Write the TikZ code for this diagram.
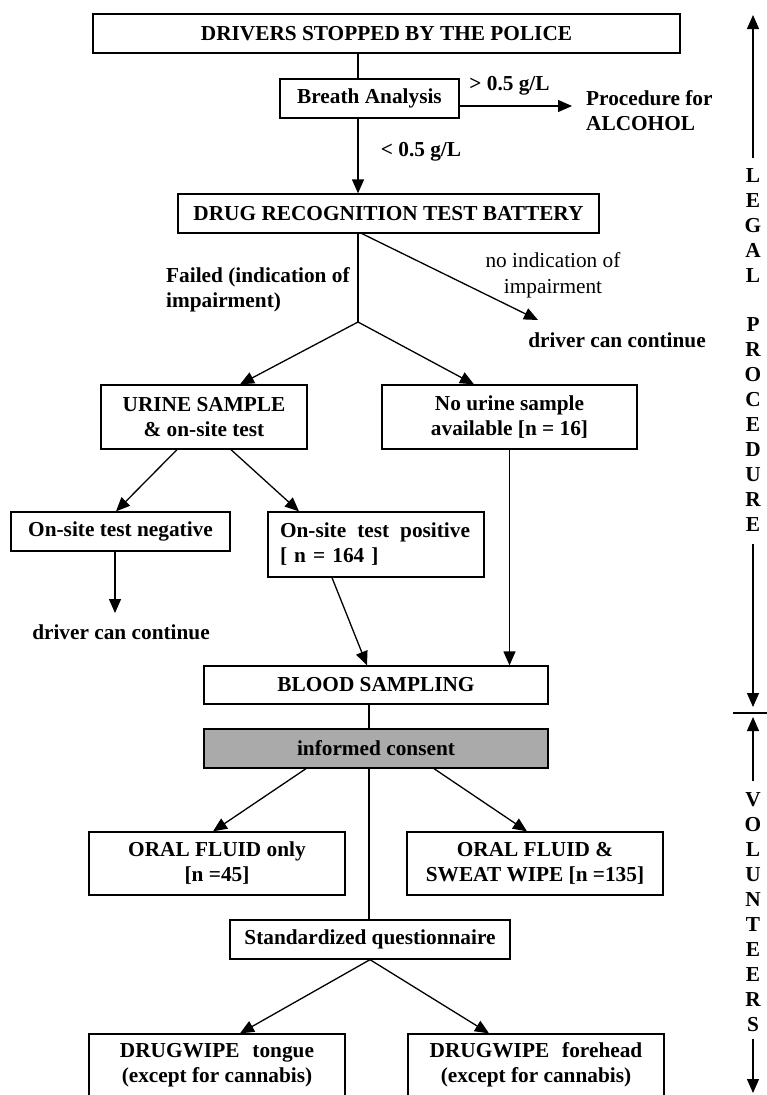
\documentclass[tikz,border=0pt]{standalone}
\usepackage{fontspec}
\setmainfont{Liberation Serif}
\usetikzlibrary{arrows.meta}
\definecolor{consentgray}{RGB}{170,170,170}
\tikzset{
	box/.style={draw=black,line width=1.3pt,fill=white,inner sep=0pt,align=center,font=\bfseries\fontsize{21.3}{25}\selectfont},
	lbl/.style={inner sep=0pt,align=center,font=\bfseries\fontsize{21.3}{25}\selectfont},
	plainlbl/.style={inner sep=0pt,align=center,font=\fontsize{21.3}{26}\selectfont},
	link/.style={line width=1.3pt,black},
	arr/.style={line width=1.3pt,black,-{Triangle[length=14pt,width=12pt]}},
}
\begin{document}
\begin{tikzpicture}[x=1pt,y=-1pt]
	\path[use as bounding box,clip](0,0) rectangle (767,1095);
		\node[box,minimum width=587pt,minimum height=39pt](police) at (386.5,33.5){DRIVERS STOPPED BY THE POLICE};
		\node[box,minimum width=179pt,minimum height=39pt](breath) at (369.5,98.5){Breath Analysis};
		\node[box,minimum width=421pt,minimum height=39pt](drt) at (388.5,213.5){DRUG RECOGNITION TEST BATTERY};
		\node[box,minimum width=206pt,minimum height=64pt](urine) at (204,417){URINE SAMPLE\\\& on-site test};
		\node[box,minimum width=255pt,minimum height=64pt](nourine) at (509.5,417){No urine sample\\available [n = 16]};
		\node[box,minimum width=219pt,minimum height=39pt](neg) at (120.5,531.5){On-site test negative};
		\node[box,minimum width=216pt,minimum height=65pt,text width=192pt,align=left](pos) at (376,544.5){On-site\hspace{11pt}test\hspace{11pt}positive\\{}[ n = 164 ]};
		\node[box,minimum width=344pt,minimum height=38pt](blood) at (376,685){BLOOD SAMPLING};
		\node[box,fill=consentgray,minimum width=344pt,minimum height=39pt](consent) at (376,748.5){informed consent};
		\node[box,minimum width=256pt,minimum height=63pt](ofonly) at (217,863.5){ORAL FLUID only\\{}[n =45]};
		\node[box,minimum width=256pt,minimum height=63pt](ofsweat) at (535,863.5){ORAL FLUID \&\\SWEAT WIPE [n =135]};
		\node[box,minimum width=280pt,minimum height=39pt](quest) at (370,939.5){Standardized questionnaire};
		\node[box,minimum width=256pt,minimum height=62pt](dwtongue) at (217,1065){DRUGWIPE\hspace{13pt}tongue\\(except for cannabis)};
		\node[box,minimum width=256pt,minimum height=62pt](dwforehead) at (536,1065){DRUGWIPE\hspace{13pt}forehead\\(except for cannabis)};
		\node[lbl](gt) at (509.5,86){> 0.5 g/L};
		\node[lbl](lt) at (421,152){< 0.5 g/L};
		\node[lbl,align=left,anchor=west](alcohol) at (586,111){Procedure for\\ALCOHOL};
		\node[lbl,align=left,anchor=west](failed) at (166,289.5){Failed (indication of\\impairment)};
		\node[plainlbl](noind) at (553,275){no indication of\\impairment};
		\node[lbl](cont1) at (617,340){driver can continue};
		\node[lbl](cont2) at (121,632){driver can continue};
		\node[lbl](legal) at (753,350){L\\E\\G\\A\\L\\[24pt]P\\R\\O\\C\\E\\D\\U\\R\\E};
		\node[lbl](volunteers) at (753,912){V\\O\\L\\U\\N\\T\\E\\E\\R\\S};
		\coordinate(junc) at (358,322);
		\coordinate(tip1) at (538,320);
		\coordinate(tip2) at (115,613);
		\coordinate(ltop) at (753,15);
		\coordinate(lbot) at (753,707);
		\coordinate(vtop) at (753,717);
		\coordinate(vbot) at (753,1093);
		\coordinate(sepl) at (733,713);
		\coordinate(sepr) at (767,713);
		\draw[link]([xshift=-28.5pt]police.south)--([xshift=-11.5pt]breath.north);
		\draw[arr]([xshift=-11.5pt]breath.south)--([xshift=-30.5pt]drt.north);
		\draw[arr]([yshift=-7.5pt]breath.east)--([xshift=-14pt,yshift=5pt]alcohol.west);
		\draw[link]([xshift=-30.5pt]drt.south)--(junc);
		\draw[arr]([xshift=-26.5pt]drt.south)--(tip1);
		\draw[arr](junc)--([xshift=36pt]urine.north);
		\draw[arr](junc)--([xshift=-35.5pt]nourine.north);
		\draw[arr]([xshift=-27pt]urine.south)--([xshift=-4.5pt]neg.north);
		\draw[arr]([xshift=27pt]urine.south)--([xshift=-77pt]pos.north);
		\draw[arr](neg.south -| tip2)--(tip2);
		\draw[arr]([xshift=-44pt]pos.south)--([xshift=-9pt]blood.north);
		\draw[arr](nourine.south)--([xshift=133.5pt]blood.north);
		\draw[link]([xshift=-7pt]blood.south)--([xshift=-7pt]consent.north);
		\draw[link]([xshift=-7pt]consent.south)--([xshift=-1pt]quest.north);
		\draw[arr]([xshift=-70pt]consent.south)--([xshift=-4pt]ofonly.north);
		\draw[arr]([xshift=58pt]consent.south)--([xshift=-8pt]ofsweat.north);
		\draw[arr](quest.south)--([xshift=23pt]dwtongue.north);
		\draw[arr](quest.south)--([xshift=-47pt]dwforehead.north);
		\draw[arr]([yshift=10pt]legal.north)--(ltop);
		\draw[arr]([yshift=-12.5pt]legal.south)--(lbot);
		\draw[arr]([yshift=11pt]volunteers.north)--(vtop);
		\draw[arr]([yshift=-7.5pt]volunteers.south)--(vbot);
		\draw[link](sepl)--(sepr);
\end{tikzpicture}
\end{document}
